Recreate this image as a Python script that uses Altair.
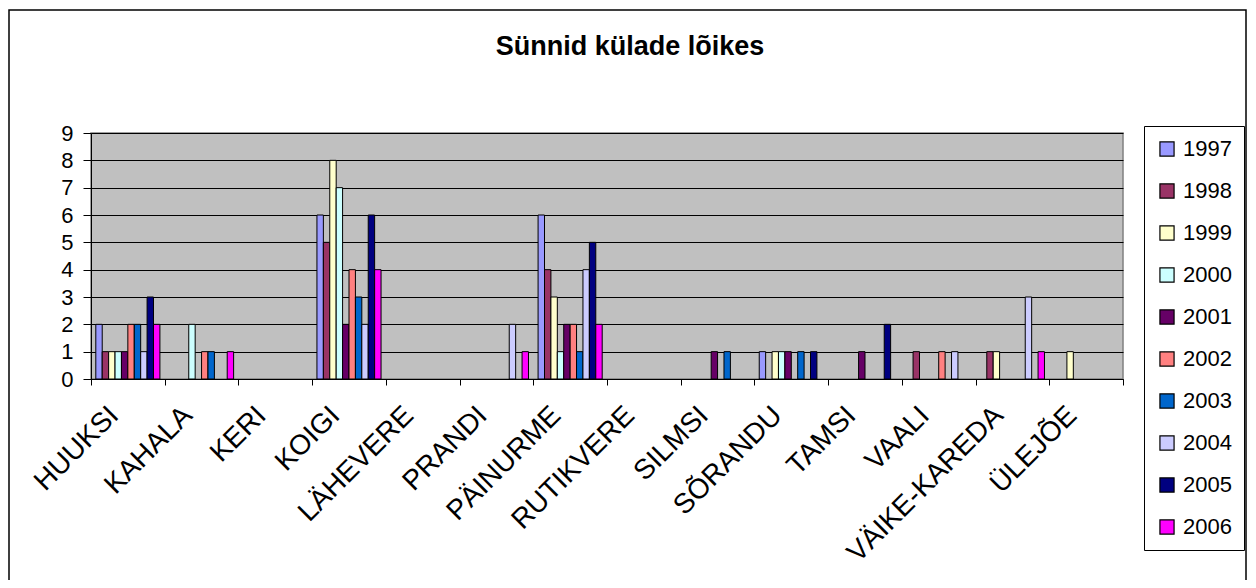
import altair as alt
import pandas as pd

villages = ["HUUKSI", "KAHALA", "KERI", "KOIGI", "LÄHEVERE", "PRANDI", "PÄINURME",
            "RUTIKVERE", "SILMSI", "SÕRANDU", "TAMSI", "VAALI", "VÄIKE-KAREDA", "ÜLEJÕE"]
years = ["1997", "1998", "1999", "2000", "2001", "2002", "2003", "2004", "2005", "2006"]

huuksi = [2, 1, 1, 1, 1, 2, 2, 1, 3, 2]
kahala = [0, 0, 0, 2, 0, 1, 1, 0, 0, 1]
keri = [0, 0, 0, 0, 0, 0, 0, 0, 0, 0]
koigi = [6, 5, 8, 7, 2, 4, 3, 2, 6, 4]
lahevere = [0, 0, 0, 0, 0, 0, 0, 0, 0, 0]
prandi = [0, 0, 0, 0, 0, 0, 0, 2, 0, 1]
painurme = [6, 4, 3, 1, 2, 2, 1, 4, 5, 2]
rutikvere = [0, 0, 0, 0, 0, 0, 0, 0, 0, 0]
silmsi = [0, 0, 0, 0, 1, 0, 1, 0, 0, 0]
sorandu = [1, 0, 1, 1, 1, 0, 1, 0, 1, 0]
tamsi = [0, 0, 0, 0, 1, 0, 0, 0, 2, 0]
vaali = [0, 1, 0, 0, 0, 1, 0, 1, 0, 0]
vaike_kareda = [0, 1, 1, 0, 0, 0, 0, 3, 0, 1]
ulejoe = [0, 0, 1, 0, 0, 0, 0, 0, 0, 0]

series = [huuksi, kahala, keri, koigi, lahevere, prandi, painurme,
          rutikvere, silmsi, sorandu, tamsi, vaali, vaike_kareda, ulejoe]

colors = ["#9999FF", "#993366", "#FFFFCC", "#CCFFFF", "#660066",
          "#FF8080", "#0066CC", "#CCCCFF", "#000080", "#FF00FF"]

rows = []
for v, vals in zip(villages, series):
    for y, val in zip(years, vals):
        rows.append({"küla": v, "aasta": y, "sünnid": val})
df = pd.DataFrame(rows)

FONT = "Liberation Sans"

bars = alt.Chart(df).transform_filter("datum['sünnid'] > 0").mark_bar(
    stroke="black", strokeWidth=1
).encode(
    x=alt.X("küla:N", sort=villages, title=None,
            scale=alt.Scale(domain=villages, paddingInner=0, paddingOuter=0),
            axis=alt.Axis(labelAngle=315, labelFontSize=28, labelFont=FONT,
                          labelColor="black", labelPadding=26, tickBand="extent",
                          domainColor="black", tickColor="black", tickSize=6,
                          labelAlign="right", labelBaseline="middle", labelOffset=-14,
                          labelLimit=500)),
    xOffset=alt.XOffset("aasta:N", sort=years,
                        scale=alt.Scale(domain=years, paddingInner=0, paddingOuter=0.75)),
    y=alt.Y("sünnid:Q", title=None,
            scale=alt.Scale(domain=[0, 9], nice=False),
            axis=alt.Axis(values=list(range(10)), labelFontSize=22, labelFont=FONT,
                          labelColor="black", labelPadding=10, tickSize=8,
                          domainColor="black", tickColor="black",
                          grid=True, gridColor="black", gridWidth=1.2, gridOpacity=1)),
    color=alt.Color("aasta:N", sort=years, title=None,
                    scale=alt.Scale(domain=years, range=colors),
                    legend=alt.Legend(orient="none", legendX=1053, legendY=-7,
                                      symbolType="square", symbolSize=200,
                                      symbolStrokeColor="black", symbolStrokeWidth=1.2,
                                      symbolOpacity=1,
                                      labelFontSize=22, labelFont=FONT, labelColor="black",
                                      labelOffset=5, rowPadding=20, padding=12,
                                      strokeColor="black", fillColor="white")),
)

border = alt.Chart(alt.Data(values=[{}])).mark_rect(
    fill=None, stroke="black", strokeWidth=1.5, clip=False
).encode(
    x=alt.value(-82), x2=alt.value(1155), y=alt.value(-123), y2=alt.value(470)
)

chart = alt.layer(bars, border).properties(
    width=1032, height=246,
    title=alt.TitleParams("Sünnid külade lõikes", font=FONT, fontSize=27,
                          fontWeight="bold", color="black", anchor="middle",
                          frame="group", dx=23, offset=-52),
    autosize=alt.AutoSizeParams(type="none"),
    padding={"left": 83, "top": 125, "right": 125, "bottom": 201},
).configure_view(
    fill="#C0C0C0", stroke="#808080", strokeWidth=1.5
)

chart.save("out.html", embed_options={"renderer": "svg", "actions": False})
